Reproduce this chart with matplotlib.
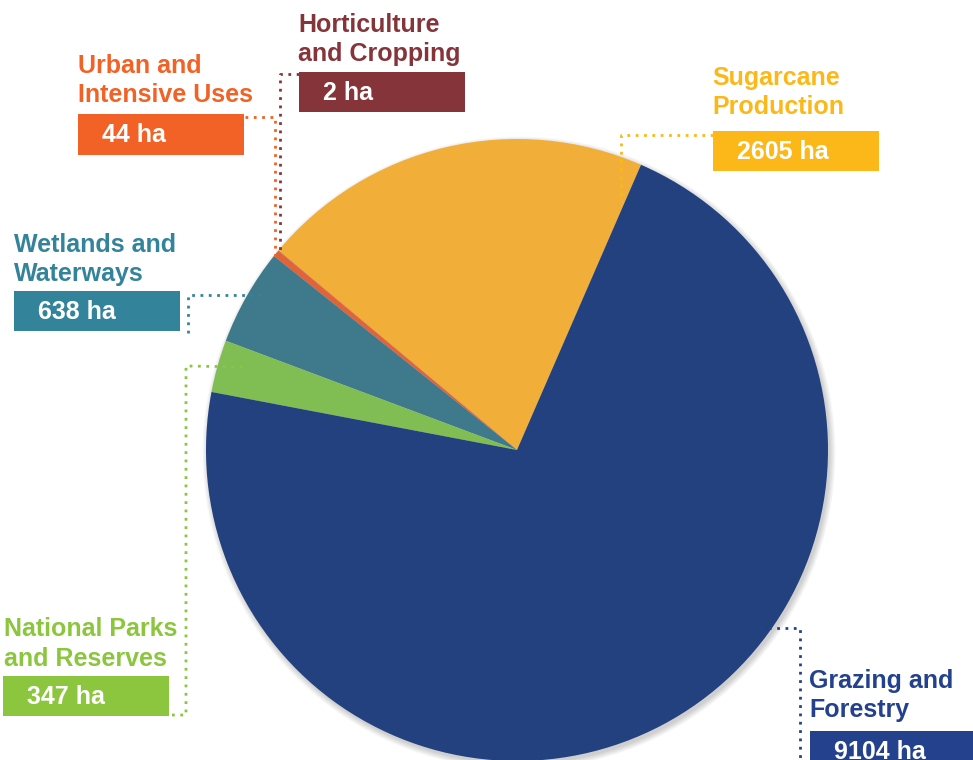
import matplotlib.pyplot as plt
from matplotlib.patches import Rectangle, Circle

plt.rcParams['font.family'] = ['Liberation Sans', 'DejaVu Sans']

# data, counterclockwise from the sugarcane slice
categories = ['Sugarcane\nProduction', 'Horticulture\nand Cropping', 'Urban and\nIntensive Uses',
              'Wetlands and\nWaterways', 'National Parks\nand Reserves', 'Grazing and\nForestry']
values = [2605, 2, 44, 638, 347, 9104]
slice_colors = ['#f1af3a', '#85353a', '#e2623a', '#3e7a8b', '#80bd52', '#23417f']
label_colors = ['#fbb818', '#85353a', '#f26125', '#33849b', '#8cc63f', '#24418d']

# label layout in pixels: text x, first baseline, box (x, y, w, h), leader path
layout = [
    (712, 85, (713, 131, 166, 40), [(713, 135), (621, 135), (621, 200)]),
    (298, 32, (299, 72, 166, 40), [(299, 74), (280, 74), (280, 252)]),
    (78, 73, (78, 114, 166, 41), [(245, 117), (275, 117), (275, 258)]),
    (14, 252, (14, 291, 166, 40), [(188, 333), (188, 295), (263, 295)]),
    (4, 636, (3, 676, 166, 40), [(172, 715), (186, 715), (186, 366), (248, 367)]),
    (809, 688, (810, 731, 170, 40), [(760, 628), (800, 628), (800, 760)]),
]

fig = plt.figure(figsize=(9.73, 7.6), dpi=100)
ax = fig.add_axes([0, 0, 1, 1])

cx, cy, r = 517, 450, 311
for i in range(8):
    ax.add_patch(Circle((cx + 2, cy + 3), r + i * 0.8, color='#000000', alpha=0.025, lw=0, zorder=0))

ax.pie(values, colors=slice_colors, center=(cx, cy), radius=r,
       startangle=-66.5, counterclock=False, wedgeprops=dict(linewidth=0))

for cat, v, col, (tx, ty, box, path) in zip(categories, values, label_colors, layout):
    l1, l2 = cat.split('\n')
    ax.text(tx, ty, l1, color=col, fontsize=18, fontweight='bold', va='baseline', ha='left')
    ax.text(tx, ty + 29.5, l2, color=col, fontsize=18, fontweight='bold', va='baseline', ha='left')
    bx, by, bw, bh = box
    ax.add_patch(Rectangle((bx, by), bw, bh, color=col, lw=0, zorder=3))
    ax.text(bx + 24, by + bh / 2 + 1, f'{v} ha', color='white', fontsize=18, fontweight='bold',
            va='center', ha='left', zorder=4)
    xs, ys = zip(*path)
    ax.plot(xs, ys, color=col, lw=2, linestyle=(0, (1, 2)), zorder=2)

ax.set_xlim(0, 973)
ax.set_ylim(760, 0)
ax.set_aspect('equal')
ax.axis('off')

fig.savefig('out.png', dpi=100)
